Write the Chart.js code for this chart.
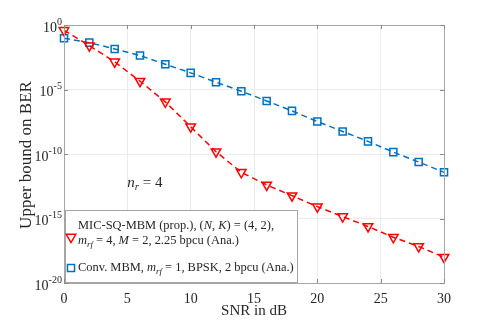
<!DOCTYPE html>
<html>
<head>
<meta charset="utf-8">
<script src="https://cdn.jsdelivr.net/npm/chart.js@4.4.1/dist/chart.umd.min.js"></script>
<style>
html,body{margin:0;padding:0;background:#fff;}
canvas{display:block;}
</style>
</head>
<body>
<canvas id="c" width="491" height="327"></canvas>
<script>
// ---- data ----
const snrDb = [0, 2, 4, 6, 8, 10, 12, 14, 16, 18, 20, 22, 24, 26, 28, 30];
const proposedBer = [3.9e-1, 2.5e-2, 1.4e-3, 4.4e-5, 1.1e-6, 1.3e-8, 1.5e-10, 3.8e-12, 4.0e-13, 5.9e-14, 8.3e-15, 1.4e-15, 2.4e-16, 3.5e-17, 6.8e-18, 1.0e-18];
const convBer = [9.3e-2, 4.3e-2, 1.4e-2, 4.3e-3, 9.1e-4, 1.95e-4, 3.7e-5, 7.4e-6, 1.3e-6, 2.2e-7, 3.3e-8, 5.6e-9, 9.5e-10, 1.4e-10, 2.4e-11, 3.8e-12];
const xTicks = [0, 5, 10, 15, 20, 25, 30];
const yTickExponents = [0, -5, -10, -15, -20];
const xTitle = 'SNR in dB';
const yTitle = 'Upper bound on BER';
const annotationText = {x: 5, y: 6e-13};

const SERIF = '"Liberation Serif", "DejaVu Serif", serif';
const RED = '#ff0000', BLUE = '#0072bd';

function pts(ys){ return snrDb.map((x,i)=>({x:x, y:ys[i]})); }

function drawRich(ctx, segs, x, y, size){
  let cx = x;
  for (const s of segs){
    let fs = size, dy = 0, style = '';
    if (s.it) style = 'italic ';
    if (s.sub){ fs = size*0.72; dy = size*0.28; style='italic '; }
    if (s.sup){ fs = size*0.72; dy = -size*0.42; }
    ctx.font = style + fs + 'px ' + SERIF;
    ctx.fillText(s.t, cx, y + dy);
    cx += ctx.measureText(s.t).width;
  }
  return cx - x;
}
function richWidth(ctx, segs, size){
  let w = 0;
  for (const s of segs){
    let fs = size, style = '';
    if (s.it) style='italic ';
    if (s.sub){ fs=size*0.72; style='italic '; }
    if (s.sup){ fs=size*0.72; }
    ctx.font = style + fs + 'px ' + SERIF;
    w += ctx.measureText(s.t).width;
  }
  return w;
}

const decorPlugin = {
  id: 'decor',
  afterDraw(chart){
    const ctx = chart.ctx, a = chart.chartArea;
    const xs = chart.scales.x, ys = chart.scales.y;
    ctx.save();
    // box
    ctx.strokeStyle = '#a6a6a6';
    ctx.lineWidth = 1;
    ctx.strokeRect(Math.round(a.left)+0.5, Math.round(a.top)+0.5, Math.round(a.right-a.left), Math.round(a.bottom-a.top));
    // inside tick marks
    ctx.strokeStyle = '#8c8c8c';
    ctx.beginPath();
    for (const t of xTicks){
      const px = Math.round(xs.getPixelForValue(t))+0.5;
      ctx.moveTo(px, a.bottom); ctx.lineTo(px, a.bottom-4);
      ctx.moveTo(px, a.top); ctx.lineTo(px, a.top+4);
    }
    for (const e of yTickExponents){
      const py = Math.round(ys.getPixelForValue(Math.pow(10,e)))+0.5;
      ctx.moveTo(a.left, py); ctx.lineTo(a.left+4, py);
      ctx.moveTo(a.right, py); ctx.lineTo(a.right-4, py);
    }
    ctx.stroke();
    // y tick labels 10^e
    ctx.fillStyle = '#262626';
    ctx.textBaseline = 'middle';
    for (const e of yTickExponents){
      const py = ys.getPixelForValue(Math.pow(10,e));
      const segs = [{t:'10'}, {t: e===0 ? '0' : '-' + Math.abs(e), sup:true}];
      const w = richWidth(ctx, segs, 14);
      ctx.textAlign = 'left';
      drawRich(ctx, segs, a.left - 2 - w, py + 3, 14);
    }
    // axis titles
    ctx.textAlign = 'center';
    ctx.font = '15px ' + SERIF;
    ctx.fillText(xTitle, (a.left+a.right)/2, 311);
    ctx.save();
    ctx.translate(27, (a.top+a.bottom)/2 + 1);
    ctx.rotate(-Math.PI/2);
    ctx.font = '17px ' + SERIF;
    ctx.fillText(yTitle, 0, 0);
    ctx.restore();
    // annotation n_r = 4
    ctx.textAlign = 'left';
    ctx.fillStyle = '#262626';
    drawRich(ctx, [{t:'n', it:true}, {t:'r', sub:true}, {t:' = 4'}],
      xs.getPixelForValue(annotationText.x), ys.getPixelForValue(annotationText.y), 15);

    // legend box
    const lx = a.left + 1, ly = 210, lw = 232, lh = a.bottom - 1 - ly;
    ctx.fillStyle = '#ffffff';
    ctx.fillRect(lx, ly, lw, lh);
    ctx.strokeStyle = '#a6a6a6';
    ctx.strokeRect(lx+0.5, ly+0.5, lw, lh);
    const line1 = [{t:'MIC-SQ-MBM (prop.), ('}, {t:'N', it:true}, {t:', '}, {t:'K', it:true}, {t:') = (4, 2),'}];
    const line2 = [{t:'m', it:true}, {t:'rf', sub:true}, {t:' = 4, '}, {t:'M', it:true}, {t:' = 2, 2.25 bpcu (Ana.)'}];
    const line3 = [{t:'Conv. MBM, '}, {t:'m', it:true}, {t:'rf', sub:true}, {t:' = 1, BPSK, 2 bpcu (Ana.)'}];
    let fs = 13;
    const w3 = richWidth(ctx, line3, fs);
    fs = fs * 216 / w3;
    ctx.fillStyle = '#262626';
    ctx.textBaseline = 'middle';
    drawRich(ctx, line1, 78, 226, fs);
    drawRich(ctx, line2, 78, 241, fs);
    drawRich(ctx, line3, 78, 268, fs);
    // legend markers (hollow)
    ctx.lineWidth = 1.5;
    ctx.setLineDash([]);
    ctx.fillStyle = 'rgba(0,0,0,0)';
    ctx.strokeStyle = RED;
    Chart.helpers.drawPoint(ctx, {pointStyle:'triangle', rotation:180, radius:5.5, borderWidth:1.5}, 71, 237);
    ctx.strokeStyle = BLUE;
    Chart.helpers.drawPoint(ctx, {pointStyle:'rect', rotation:0, radius:5, borderWidth:1.5}, 71, 268);
    ctx.restore();
  }
};

new Chart(document.getElementById('c'), {
  type: 'line',
  data: {
    datasets: [
      {
        label: 'MIC-SQ-MBM (prop.)',
        data: pts(proposedBer),
        borderColor: RED, borderWidth: 1.5, borderDash: [6,4],
        pointStyle: 'triangle', pointRotation: 180, pointRadius: 5.5,
        pointBorderColor: RED, pointBorderWidth: 1.5, pointBackgroundColor: 'rgba(0,0,0,0)',
        fill: false, tension: 0, clip: false
      },
      {
        label: 'Conv. MBM',
        data: pts(convBer),
        borderColor: BLUE, borderWidth: 1.5, borderDash: [6,4],
        pointStyle: 'rect', pointRadius: 5,
        pointBorderColor: BLUE, pointBorderWidth: 1.5, pointBackgroundColor: 'rgba(0,0,0,0)',
        fill: false, tension: 0, clip: false
      }
    ]
  },
  options: {
    responsive: false,
    animation: false,
    layout: {padding: {left: 0, right: 47, top: 25, bottom: 0}},
    plugins: {legend: {display: false}, tooltip: {enabled: false}},
    scales: {
      x: {
        type: 'linear', min: 0, max: 30,
        afterBuildTicks: s => { s.ticks = xTicks.map(v => ({value: v})); },
        afterFit: s => { s.height = 44; },
        grid: {color: '#ebebeb', drawTicks: false},
        border: {display: false},
        ticks: {padding: 8, color: '#262626', font: {family: SERIF, size: 14}, maxRotation: 0}
      },
      y: {
        type: 'logarithmic', min: 1e-20, max: 1,
        afterBuildTicks: s => { s.ticks = yTickExponents.map(e => ({value: Math.pow(10, e)})); },
        afterFit: s => { s.width = 64; },
        grid: {color: '#ebebeb', drawTicks: false},
        border: {display: false},
        ticks: {display: false}
      }
    }
  },
  plugins: [decorPlugin]
});
</script>
</body>
</html>
